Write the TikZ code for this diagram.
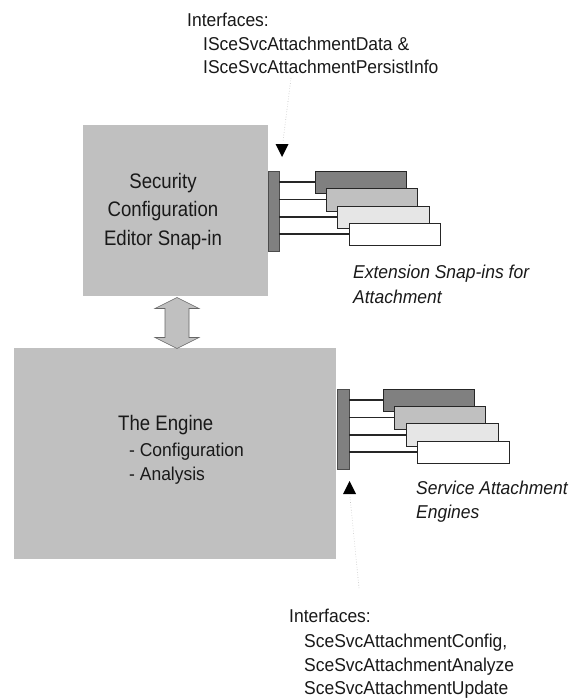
\documentclass[tikz,border=0pt]{standalone}
\usepackage{fontspec}
\setmainfont{Liberation Sans}
\newfontfamily\smallfam{Liberation Sans}[FakeStretch=0.94]
\newfontfamily\bigfam{Liberation Sans}[FakeStretch=0.886]
\begin{document}
\begin{tikzpicture}[x=1pt,y=-1pt,
  bigbox/.style={rectangle,fill=boxgray,draw=none,inner sep=0pt},
  barbox/.style={rectangle,fill=bardark,draw=black!70,line width=0.7pt,inner sep=0pt,minimum width=11pt,minimum height=80pt},
  plug/.style={rectangle,draw=black!85,line width=0.8pt,inner sep=0pt,minimum width=91pt,minimum height=22pt},
  wire/.style={draw=black!85,line width=1.1pt},
  txt/.style={inner sep=0pt,anchor=base west,text=black!90,font=\smallfam\fontsize{18.6}{22}\selectfont},
  itxt/.style={txt,font=\smallfam\fontsize{18.6}{22}\selectfont\itshape},
  btxt/.style={inner sep=0pt,anchor=base,text=black!90,font=\bigfam\fontsize{21}{25}\selectfont},
  etxt/.style={txt,font=\bigfam\fontsize{21}{25}\selectfont},
  dots/.style={draw=black!25,line width=0.6pt,dotted},
  tri/.style={fill=black,draw=none}]
\definecolor{boxgray}{HTML}{C0C0C0}
\definecolor{bardark}{HTML}{808080}
\definecolor{plugmid}{HTML}{C0C0C0}
\definecolor{pluglight}{HTML}{E6E6E6}
\useasboundingbox[fill=white] (0,0) rectangle (569,698);

% main boxes
\node[bigbox,minimum width=185pt,minimum height=171pt] (sce) at (175.5,210.5) {};
\node[bigbox,minimum width=322pt,minimum height=211pt] (eng) at (175,453.5) {};

% double arrow between boxes
\coordinate (dat) at (177,297.5);
\coordinate (dab) at (177,348.5);
\draw[fill=boxgray,draw=black!60,line width=0.6pt]
  (dat) -- ++(22,11) -- ++(-10,0) -- ++(0,29) -- ++(10,0) -- (dab)
  -- ++(-22,-11) -- ++(10,0) -- ++(0,-29) -- ++(-10,0) -- cycle;

% box texts
\node[btxt] (sec1) at (163,188) {Security};
\node[btxt] (sec2) at (163,216.5) {Configuration};
\node[btxt] (sec3) at (163,245) {Editor Snap-in};
\node[etxt] (en1) at (118,430) {The Engine};
\node[txt] (en2) at (129,456) {- Configuration};
\node[txt] (en3) at (129,480) {- Analysis};

% upper extension snap-ins
\node[barbox] (bar1) at (273.5,211) {};
\node[plug,fill=bardark] (e1) at (360.5,182) {};
\node[plug,fill=plugmid,minimum height=23pt] (e2) at (371.5,199.5) {};
\node[plug,fill=pluglight,minimum width=92pt] (e3) at (383,217) {};
\node[plug,fill=white] (e4) at (394.5,234) {};
\foreach \n in {e1,e2,e3,e4}{\draw[wire] (bar1.east |- \n.west) -- (\n.west);}
\node[plug,fill=bardark] at (e1) {};
\node[plug,fill=plugmid,minimum height=23pt] at (e2) {};
\node[plug,fill=pluglight,minimum width=92pt] at (e3) {};
\node[plug,fill=white] at (e4) {};

% lower service attachment engines
\node[barbox,minimum width=12pt] (bar2) at (343,429) {};
\foreach \n/\x/\y in {s1/428.5/400,s2/440/417.5,s3/452/435,s4/463/452}{
  \coordinate (\n w) at (\x-45.5,\y);
  \draw[wire] (bar2.east |- \n w) -- (\n w);}
\node[plug,fill=bardark] (s1) at (428.5,400) {};
\node[plug,fill=plugmid,minimum height=23pt] (s2) at (440,417.5) {};
\node[plug,fill=pluglight,minimum width=92pt,minimum height=23pt] (s3) at (452,435) {};
\node[plug,fill=white,minimum width=92pt] (s4) at (463,452) {};

% interface pointers
\coordinate (tp1) at (291,78);
\coordinate (tp2) at (283,141);
\draw[dots] (tp1) -- (tp2);
\coordinate (tt) at (282,157);
\fill[tri] (tt) -- ++(-6.5,-13) -- ++(13,0) -- cycle;
\coordinate (bp1) at (350,497);
\coordinate (bp2) at (359,588);
\draw[dots] (bp1) -- (bp2);
\coordinate (bt) at (349.5,481);
\fill[tri] (bt) -- ++(-6.5,13) -- ++(13,0) -- cycle;

% labels
\node[txt] (ti1) at (187,27) {Interfaces:};
\node[txt] (ti2) at (203,51) {ISceSvcAttachmentData \&};
\node[txt] (ti3) at (203,74) {ISceSvcAttachmentPersistInfo};
\node[itxt] (ex1) at (353,278) {Extension Snap-ins for};
\node[itxt] (ex2) at (353,303) {Attachment};
\node[itxt] (sv1) at (416,494) {Service Attachment};
\node[itxt] (sv2) at (416,518) {Engines};
\node[txt] (bi1) at (289,622) {Interfaces:};
\node[txt] (bi2) at (304,647) {SceSvcAttachmentConfig,};
\node[txt] (bi3) at (304,671) {SceSvcAttachmentAnalyze};
\node[txt] (bi4) at (304,694) {SceSvcAttachmentUpdate};
\end{tikzpicture}
\end{document}
